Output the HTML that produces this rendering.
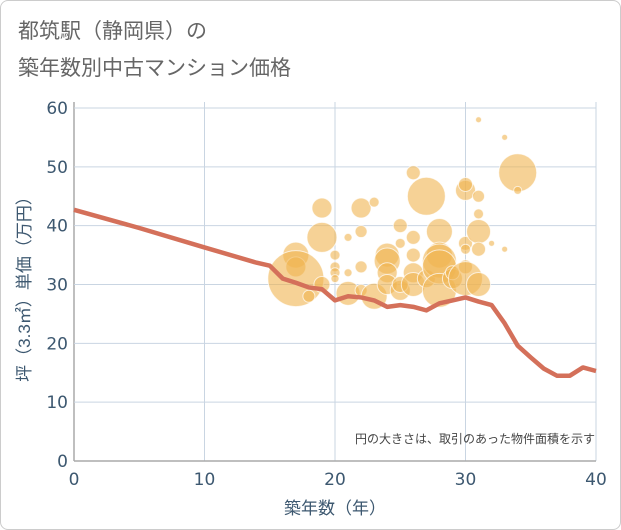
<!DOCTYPE html>
<html><head><meta charset="utf-8"><style>
body{margin:0;background:#fff;font-family:"Liberation Sans","Noto Sans CJK JP",sans-serif;}
#wrap{position:relative;width:619px;height:528px;border:1px solid #ccc;border-radius:8px;overflow:hidden;}
.tick{font-family:"DejaVu Sans",sans-serif;}
</style></head><body>
<div id="wrap">
<svg id="chart" width="621" height="530" style="position:absolute;left:-1px;top:-1px">
<text x="18" y="38" font-size="21" fill="#666">都筑駅（静岡県）の</text>
<text x="18" y="75" font-size="21" fill="#666">築年数別中古マンション価格</text>
<g id="grid"></g><g id="bubbles"></g><g id="line"></g><g id="axes"></g>
<text x="595" y="443" font-size="12" fill="#444" text-anchor="end">円の大きさは、取引のあった物件面積を示す</text>
<text x="335" y="514" font-size="17" fill="#3d5870" text-anchor="middle">築年数（年）</text>
<text transform="translate(30,285) rotate(-90)" font-size="17" fill="#3d5870" text-anchor="middle">坪（3.3㎡）単価（万円）</text>
</svg>
</div>
<script>
const xTicks=[0,10,20,30,40];
const yTicks=[0,10,20,30,40,50,60];
const lineYears=[0,5,10,14,15,16,17,18,19,20,21,22,23,24,25,26,27,28,29,30,31,32,33,34,35,36,37,38,39,40];
const linePrices=[42.7,39.6,36.3,33.7,33.2,31,30.3,29.5,29.2,27.3,28,27.8,27.3,26.2,26.5,26.2,25.6,26.8,27.3,27.8,27.1,26.5,23.4,19.6,17.6,15.7,14.5,14.5,15.9,15.3];
const bubbleYears=[17,17,17,18,19,19,19,20,20,20,20,21,21,21,22,22,22,22,23,23,24,24,24,24,25,25,25,25,26,26,26,26,26,27,27,28,28,28,28,28,29,29,30,30,30,30,30,30,31,31,31,31,31,31,32,33,33,34,34];
const bubblePrices=[35,33,31,28,43,38,30,35,33,32,31,28.5,38,32,43,39,33,29,44,28,35,34,32,30,40,37,29,30,49,38,35,32,30,45,31,39,35,34,33,29,31,32,46,47,37,36,33,31,45,42,39,36,30,58,37,55,36,49,46];
const bubbleSizes=[13,10,28,6,10,15,8,5,5,5,4,12,4,4,10,6,6,6,5,13,12,13,10,10,7,5,10,8,7,7,7,10,12,19,9,13,13,17,17,17,10,7,10,7,7,5,7,17,6,5,12,7,12,3,3,3,3,19,4];
const NS="http://www.w3.org/2000/svg";
const X0=74,X1=596,Y0=461,Y1=108;
const xs=v=>X0+(X1-X0)*v/40, ys=v=>Y0-(Y0-Y1)*v/60;
function mk(tag,attrs,parent){const e=document.createElementNS(NS,tag);for(const k in attrs)e.setAttribute(k,attrs[k]);parent.appendChild(e);return e;}
const grid=document.getElementById('grid'),axes=document.getElementById('axes');
xTicks.forEach(t=>{
 const l=mk('line',{x1:xs(t),x2:xs(t),y1:Y1-6,y2:Y0,stroke:t===0?'#aaa':'#c9d5e2','stroke-width':t===0?1.5:1},grid);
 
 
 const tx=mk('text',{x:xs(t),y:Y0+24,'font-size':17,fill:'#3d5870','text-anchor':'middle','class':'tick'},axes);tx.textContent=t;
 
 
});
yTicks.forEach(t=>{
 const l=mk('line',{x1:X0,x2:X1,y1:ys(t),y2:ys(t),stroke:t===0?'#aaa':'#c9d5e2','stroke-width':t===0?1.5:1},grid);
 
 
 const tx=mk('text',{x:X0-6,y:ys(t)+6,'font-size':17,fill:'#3d5870','text-anchor':'end','class':'tick'},axes);tx.textContent=t;
 
 
});
const bg=document.getElementById('bubbles');
bubbleYears.forEach((yr,i)=>{
 const c=mk('circle',{cx:xs(yr),cy:ys(bubblePrices[i]),r:bubbleSizes[i],fill:'rgba(240,180,80,0.6)',stroke:'rgba(255,255,255,0.7)','stroke-width':1},bg);
 
 
});
const p=mk('polyline',{points:lineYears.map((y,i)=>xs(y)+','+ys(linePrices[i])).join(' '),fill:'none',stroke:'#d4705a','stroke-width':4.5,'stroke-linejoin':'round'},document.getElementById('line'));


</script>
</body></html>
